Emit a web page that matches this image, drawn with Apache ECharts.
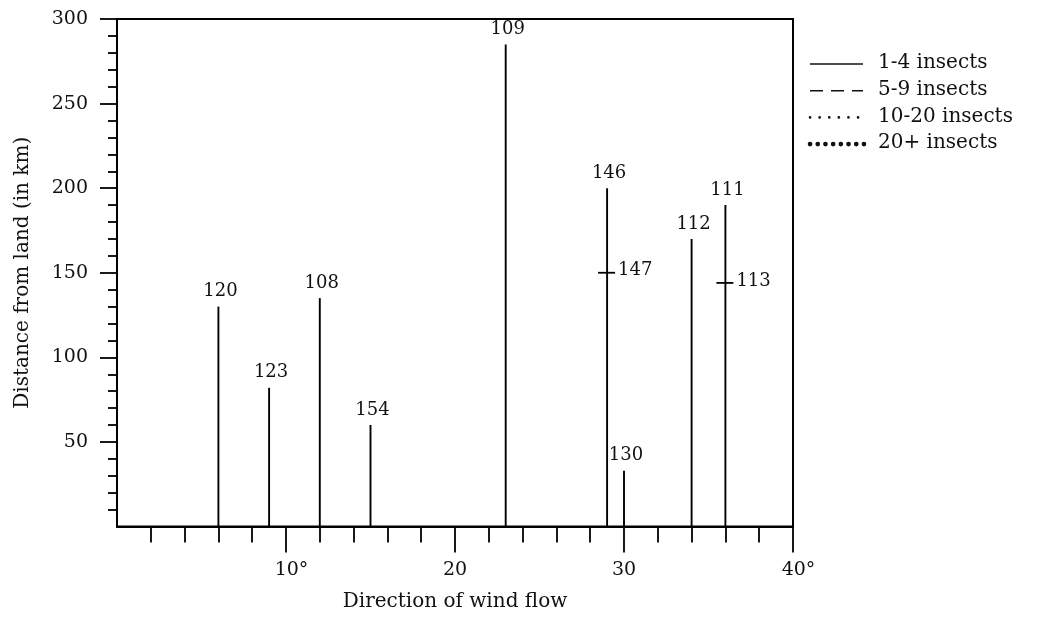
<!DOCTYPE html>
<html>
<head>
<meta charset="utf-8">
<script src="https://cdn.jsdelivr.net/npm/echarts@6/dist/echarts.min.js"></script>
<style>
html,body{margin:0;padding:0;background:#fff;}
#chart{width:1046px;height:618px;}
</style>
</head>
<body>
<div id="chart"></div>
<script>
// ---- data ----
const flightIds   = ['120', '123', '108', '154', '109', '146', '130', '112', '111'];
const directions  = [6, 9, 12, 15, 23, 29, 30, 34, 36];
const distances   = [130, 82, 135, 60, 285, 200, 33, 170, 190];

const markIds        = ['147', '113'];
const markDirections = [29, 36];
const markDistances  = [150, 144];

const xTickValues = [10, 20, 30, 40];
const xTickLabels = ['10°', '20', '30', '40°'];
const yTickValues = [50, 100, 150, 200, 250, 300];
const yTickLabels = ['50', '100', '150', '200', '250', '300'];

const legendLabels = ['1-4 insects', '5-9 insects', '10-20 insects', '20+ insects'];

const xAxisTitle = 'Direction of wind flow';
const yAxisTitle = 'Distance from land (in km)';

// ---- chart ----
const FONT = 'DejaVu Serif';
const INK = '#111';
const chart = echarts.init(document.getElementById('chart'), null, {renderer: 'canvas'});

const stemData = directions.map((d, i) => [d, distances[i], i]);
const markData = markDirections.map((d, i) => [d, markDistances[i], i]);

function xLabelFormatter(v) {
  const i = xTickValues.indexOf(v);
  if (i < 0) return '';
  const t = xTickLabels[i];
  if (t.endsWith('°')) return '{p|' + t.slice(0, -1) + '}{d|°}';
  return '{n|' + t + '}';
}
function yLabelFormatter(v) {
  const i = yTickValues.indexOf(v);
  return i < 0 ? '' : yTickLabels[i];
}

// legend samples (drawn as graphics)
const legendStyles = [
  {lineDash: null, lineWidth: 1.6, lineCap: 'butt'},
  {lineDash: [13, 8], lineWidth: 1.6, lineCap: 'butt'},
  {lineDash: [0.1, 9.5], lineWidth: 2.6, lineCap: 'round'},
  {lineDash: [0.1, 7.6], lineWidth: 4.6, lineCap: 'round'}
];
const legendGraphics = [];
legendLabels.forEach((lab, i) => {
  const y = 63 + i * 26.7;
  legendGraphics.push({
    type: 'line',
    shape: {x1: 810, y1: y + 1, x2: i === 3 ? 868 : 863, y2: y + 1},
    style: Object.assign({stroke: INK}, legendStyles[i])
  });
  legendGraphics.push({
    type: 'text',
    x: 878, y: y,
    style: {text: lab, fontFamily: FONT, fontSize: 20, fill: INK, align: 'left', verticalAlign: 'middle'}
  });
});

const option = {
  backgroundColor: '#fff',
  animation: false,
  grid: {
    left: 117, right: 253, top: 19, bottom: 91.5,
    containLabel: false,
    show: true, borderColor: '#000', borderWidth: 2, backgroundColor: 'transparent'
  },
  xAxis: {
    type: 'value', min: 0, max: 40, interval: 10,
    name: xAxisTitle, nameLocation: 'middle', nameGap: 65,
    nameTextStyle: {fontFamily: FONT, fontSize: 20, color: INK},
    axisLine: {show: true, onZero: false, lineStyle: {color: '#000', width: 2}},
    axisTick: {show: true, inside: false, length: 26, customValues: xTickValues, lineStyle: {color: '#000', width: 1.8}},
    minorTick: {show: true, splitNumber: 5, length: 16, lineStyle: {color: '#000', width: 1.8}},
    splitLine: {show: false},
    axisLabel: {
      margin: 34, customValues: xTickValues, formatter: xLabelFormatter, color: INK,
      rich: {
        n: {fontFamily: FONT, fontSize: 19, color: INK},
        p: {fontFamily: FONT, fontSize: 19, color: INK, padding: [0, 0, 0, 11]},
        d: {fontFamily: FONT, fontSize: 19, color: INK}
      }
    }
  },
  yAxis: {
    type: 'value', min: 0, max: 300, interval: 50,
    name: yAxisTitle, nameLocation: 'middle', nameGap: 84, nameRotate: 90,
    nameTextStyle: {fontFamily: FONT, fontSize: 20, color: INK},
    axisLine: {show: true, onZero: false, lineStyle: {color: '#000', width: 2}},
    axisTick: {show: true, inside: false, length: 17, customValues: yTickValues, lineStyle: {color: '#000', width: 1.8}},
    minorTick: {show: true, splitNumber: 5, length: 9, lineStyle: {color: '#000', width: 1.8}},
    splitLine: {show: false},
    axisLabel: {margin: 29, customValues: yTickValues, formatter: yLabelFormatter, fontFamily: FONT, fontSize: 19, color: INK}
  },
  graphic: legendGraphics,
  series: [
    {
      type: 'custom',
      name: '1-4 insects',
      data: stemData,
      encode: {x: 0, y: 1},
      clip: false,
      renderItem: function (params, api) {
        const x = api.value(0), y = api.value(1), idx = api.value(2);
        const p0 = api.coord([x, 0]);
        const p1 = api.coord([x, y]);
        return {
          type: 'group',
          children: [
            {type: 'line', shape: {x1: p0[0], y1: p0[1], x2: p1[0], y2: p1[1]},
             style: {stroke: '#000', lineWidth: 1.9}},
            {type: 'text', x: p1[0] + 2, y: p1[1] - 6,
             style: {text: flightIds[idx], fontFamily: FONT, fontSize: 18, fill: INK, align: 'center', verticalAlign: 'bottom'}}
          ]
        };
      }
    },
    {
      type: 'custom',
      name: 'marks',
      data: markData,
      encode: {x: 0, y: 1},
      clip: false,
      renderItem: function (params, api) {
        const x = api.value(0), y = api.value(1), idx = api.value(2);
        const p = api.coord([x, y]);
        return {
          type: 'group',
          children: [
            {type: 'line', shape: {x1: p[0] - 9, y1: p[1], x2: p[0] + 8, y2: p[1]},
             style: {stroke: '#000', lineWidth: 1.8}},
            {type: 'text', x: p[0] + 11, y: p[1] - 2,
             style: {text: markIds[idx], fontFamily: FONT, fontSize: 18, fill: INK, align: 'left', verticalAlign: 'middle'}}
          ]
        };
      }
    }
  ]
};
chart.setOption(option);
</script>
</body>
</html>
